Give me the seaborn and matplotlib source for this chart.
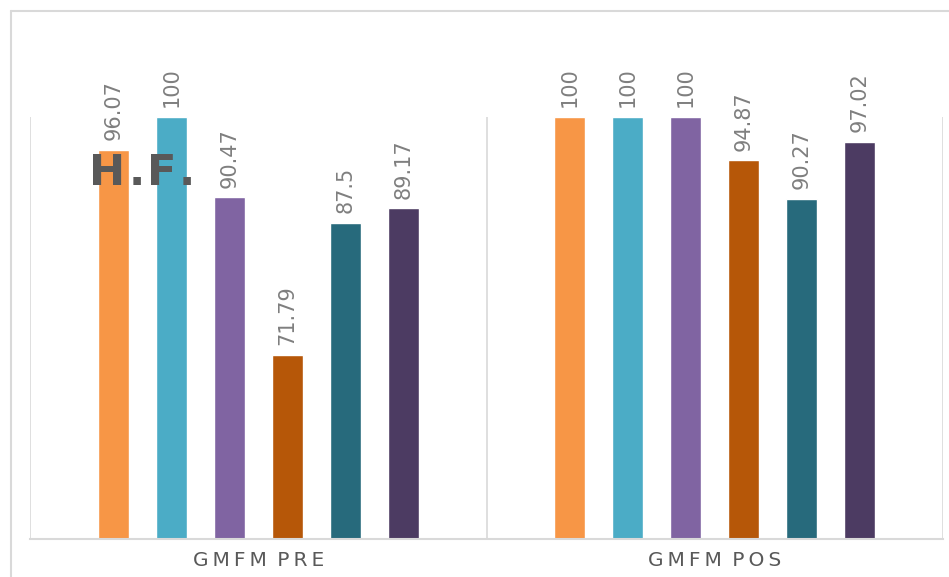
import matplotlib
matplotlib.use("Agg")
import matplotlib.pyplot as plt
import seaborn as sns
import pandas as pd
from matplotlib.lines import Line2D

categories = ["GMFM PRE", "GMFM POS"]
series_names = ["Serie 1", "Serie 2", "Serie 3", "Serie 4", "Serie 5", "Serie 6"]
serie_1 = [96.07, 100]
serie_2 = [100, 100]
serie_3 = [90.47, 100]
serie_4 = [71.79, 94.87]
serie_5 = [87.5, 90.27]
serie_6 = [89.17, 97.02]
colors = ["#F79646", "#4BACC6", "#8064A2", "#B65708", "#276A7C", "#4C3B62"]
watermark = "H.F."

all_series = [serie_1, serie_2, serie_3, serie_4, serie_5, serie_6]
rows = []
for name, vals in zip(series_names, all_series):
    for cat, v in zip(categories, vals):
        rows.append({"cat": cat, "serie": name, "value": v})
df = pd.DataFrame(rows)

sns.set_theme(style="white")
fig = plt.figure(figsize=(9.49, 5.77), dpi=100)
ax = fig.add_axes([30/949, 1-539/577, (943-30)/949, (539-117)/577])

sns.barplot(data=df, x="cat", y="value", hue="serie", order=categories,
            hue_order=series_names, palette=colors, width=0.762, gap=0.46,
            ax=ax, legend=False, saturation=1, errorbar=None)

ax.set_ylim(50, 100)
ax.set_xlim(-0.5, 1.5)
ax.set_xlabel("")
ax.set_ylabel("")
ax.set_yticks([])
for s in ["top", "right", "left"]:
    ax.spines[s].set_visible(False)
ax.spines["bottom"].set_color("#d9d9d9")
ax.spines["bottom"].set_linewidth(1.5)
for xv in [-0.5, 0.5, 1.5]:
    ax.axvline(xv, color="#d9d9d9", lw=1.2, zorder=0)

def spaced(label):
    return "\u2009 ".join("\u2009".join(w) for w in label.split(" "))

ax.set_xticks([0, 1])
ax.set_xticklabels([spaced(c) for c in categories], fontsize=14.5,
                   color="#595959")
ax.tick_params(axis="x", length=0, pad=9)

for cont, vals in zip(ax.containers, all_series):
    ax.bar_label(cont, labels=[f"{v:g}" for v in vals], rotation=90,
                 padding=7, fontsize=15, color="#7f7f7f", clip_on=False)

# watermark letters, spaced like the reference
for ch, xp in zip(watermark, [89, 129, 147, 179]):
    fig.text(xp/949, 1-185/577, ch, fontsize=31, fontweight="bold",
             color="#595959", ha="left", va="baseline")

fig.add_artist(Line2D([11/949, 11/949], [0, 1-11/577], color="#d9d9d9", lw=1.5,
                      transform=fig.transFigure))
fig.add_artist(Line2D([11/949, 1], [1-11/577, 1-11/577], color="#d9d9d9", lw=1.5,
                      transform=fig.transFigure))

fig.savefig("out.png", dpi=100)
